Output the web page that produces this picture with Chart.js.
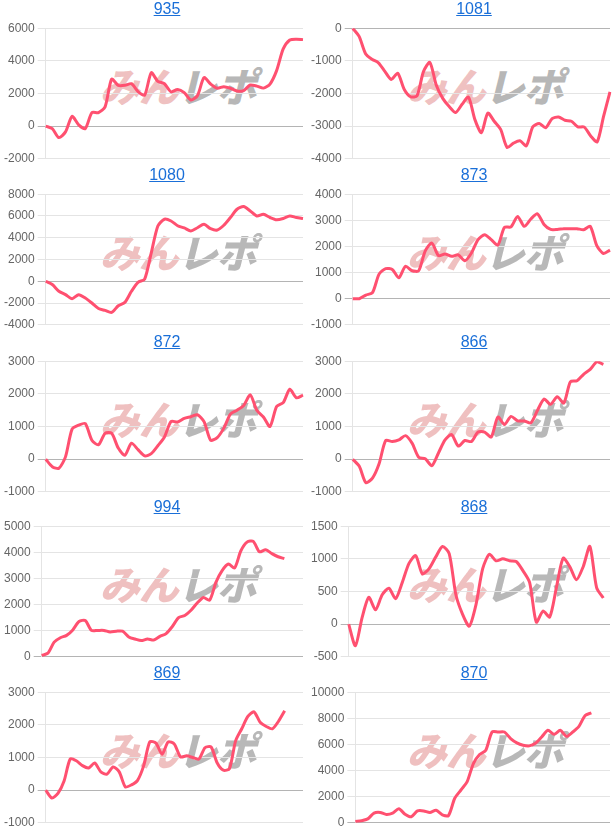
<!DOCTYPE html>
<html>
<head>
<meta charset="utf-8">
<script src="https://cdn.jsdelivr.net/npm/chart.js@4.4.0/dist/chart.umd.min.js"></script>
<style>
  body { margin: 0; width: 614px; background: #fff; font-family: Arial, "Liberation Sans", sans-serif; }
  #grid { display: grid; grid-template-columns: 307px 307px; }
  .cell { position: relative; height: 166px; }
  .cell:nth-child(3), .cell:nth-child(4) { height: 167px; }
  .cell:nth-child(5), .cell:nth-child(6) { height: 165px; }
  .title { position: relative; z-index: 2; height: 20px; padding-left: 27px; text-align: center; font-size: 16px; line-height: 18px; }
  .title a { color: #1a6fd8; text-decoration: underline; }
  .logo { position: absolute; left: 104px; top: 56px; font: 900 40px "Noto Sans CJK JP", sans-serif;
          letter-spacing: -1px; transform: skewX(-14deg); white-space: nowrap; }
  .logo .a { color: rgba(226, 140, 140, 0.55); }
  .logo .b { color: rgba(160, 160, 160, 0.75); }
  canvas { position: absolute; left: 0; top: 18px; }
</style>
</head>
<body>
<div id="grid"></div>
<script>
// machine numbers shown above each graph
const titles = ['935', '1081', '1080', '873', '872', '866', '994', '868', '869', '870'];
// how many x slots each graph has (some series stop early)
const labelCounts = [40, 41, 40, 40, 40, 40, 43, 40, 43, 42];
const yMin = [-2000, -4000, -4000, -1000, -1000, -1000, 0, -500, -1000, 0];
const yMax = [6000, 0, 8000, 4000, 3000, 3000, 5000, 1500, 3000, 10000];
const yStep = [2000, 1000, 2000, 1000, 1000, 1000, 1000, 500, 1000, 2000];

const s935 = [0, -150, -700, -350, 600, 80, -150, 830, 830, 1180, 2880, 2500, 2500, 2600, 2120, 1900, 3270, 2740, 2600, 2100,
  2250, 2050, 1600, 1870, 2970, 2580, 2320, 2420, 2320, 2150, 2180, 2520, 2450, 2330, 2580, 3400, 4730, 5280, 5330, 5300];
const s1081 = [0, -250, -780, -950, -1060, -1320, -1570, -1380, -1870, -2100, -2070, -1330, -1050, -1750, -2150, -2400, -2580, -2330, -2110, -2800,
  -3200, -2600, -2850, -3100, -3650, -3520, -3450, -3600, -3020, -2920, -3050, -2770, -2720, -2820, -2850, -3020, -3030, -3300, -3480, -2700, -1950];
const s1080 = [0, -300, -920, -1230, -1600, -1230, -1540, -2000, -2500, -2680, -2860, -2250, -1940, -920, -100, 200, 2600, 5080, 5700, 5540,
  5100, 4900, 4620, 4920, 5230, 4830, 4710, 5150, 5860, 6620, 6860, 6460, 6000, 6150, 5860, 5650, 5770, 6000, 5860, 5770];
const s873 = [0, 0, 140, 230, 940, 1150, 1120, 800, 1240, 1070, 1070, 1830, 2130, 1650, 1710, 1620, 1680, 1450, 1750, 2260,
  2450, 2260, 2050, 2730, 2750, 3150, 2770, 3050, 3250, 2840, 2650, 2650, 2680, 2680, 2680, 2640, 2770, 2030, 1730, 1860];
const s872 = [0, -230, -280, 70, 920, 1040, 1090, 580, 440, 790, 790, 340, 120, 490, 290, 100, 170, 410, 680, 1150,
  1140, 1250, 1300, 1360, 1150, 580, 660, 950, 1380, 1500, 1640, 1970, 1500, 1290, 1000, 1610, 1730, 2140, 1880, 1960];
const s866 = [0, -220, -720, -580, -140, 570, 540, 590, 720, 490, 60, 10, -200, 190, 590, 750, 400, 570, 540, 830,
  830, 680, 1290, 1060, 1310, 1170, 1170, 1110, 1490, 1840, 1680, 1910, 1720, 2370, 2400, 2600, 2750, 2980, 2900];
const s994 = [50, 140, 560, 730, 820, 1030, 1350, 1390, 1010, 1010, 1010, 950, 980, 980, 760, 680, 620, 680, 640, 780,
  890, 1160, 1500, 1580, 1780, 2060, 2270, 2170, 2850, 3300, 3550, 3400, 4050, 4390, 4420, 4020, 4100, 3950, 3830, 3760];
const s868 = [0, -330, 100, 410, 220, 450, 550, 390, 640, 930, 1050, 770, 850, 1030, 1190, 1080, 450, 150, -30, 300,
  850, 1070, 970, 1000, 970, 960, 820, 640, 30, 200, 110, 560, 1010, 880, 680, 880, 1190, 560, 400];
const s869 = [0, -240, -100, 280, 950, 900, 750, 680, 830, 560, 490, 710, 560, 100, 160, 300, 750, 1480, 1440, 1100,
  1480, 1410, 1020, 1050, 1000, 950, 1300, 1320, 830, 610, 660, 1510, 1880, 2260, 2400, 2080, 1950, 1880, 2110, 2430];
const s870 = [100, 150, 300, 740, 790, 640, 740, 1070, 660, 460, 910, 910, 790, 960, 610, 560, 1880, 2510, 3150, 4540,
  5230, 5560, 6950, 6950, 6950, 6450, 6120, 5940, 5890, 6090, 6570, 7080, 6780, 7080, 6620, 6950, 7380, 8220, 8420];

const series = [s935, s1081, s1080, s873, s872, s866, s994, s868, s869, s870];

const grid = document.getElementById('grid');

titles.forEach((t, i) => {
  const cell = document.createElement('div');
  cell.className = 'cell';
  cell.innerHTML =
    '<div class="title"><a href="#">' + t + '</a></div>' +
    '<div class="logo"><span class="a">みん</span><span class="b">レポ</span></div>' +
    '<canvas width="307" height="151"></canvas>';
  grid.appendChild(cell);

  const labels = Array.from({ length: labelCounts[i] }, (_, k) => k + 1);

  new Chart(cell.querySelector('canvas'), {
    type: 'line',
    data: {
      labels: labels,
      datasets: [{
        data: series[i],
        borderColor: '#ff5070',
        borderWidth: 3,
        pointRadius: 0,
        tension: 0.25,
        fill: false
      }]
    },
    options: {
      responsive: false,
      animation: false,
      layout: { padding: { left: 1, right: 4 } },
      plugins: { legend: { display: false }, tooltip: { enabled: false } },
      scales: {
        x: { display: false },
        y: {
          min: yMin[i],
          max: yMax[i],
          ticks: {
            stepSize: yStep[i],
            color: '#666',
            font: { size: 12 },
            callback: v => String(v)
          },
          grid: {
            color: ctx => ctx.tick && ctx.tick.value === 0 ? '#b4b4b4' : '#e4e4e4'
          },
          border: { color: '#e4e4e4' }
        }
      }
    }
  });
});
</script>
</body>
</html>
